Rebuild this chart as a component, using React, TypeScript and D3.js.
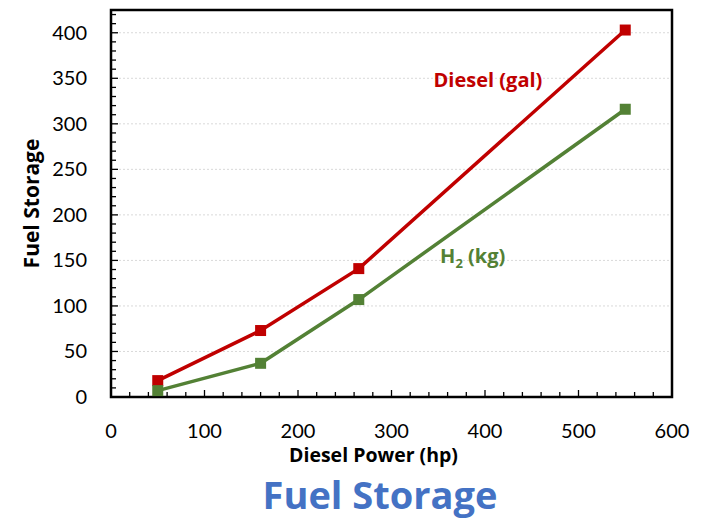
import { useEffect, useRef } from "react";
import * as d3 from "d3";

const powerHp = [50, 160, 265, 550];
const dieselGal = [18, 73, 141, 403];
const h2Kg = [7, 37, 107, 316];
const xTicks = [0, 100, 200, 300, 400, 500, 600];
const yTicks = [0, 50, 100, 150, 200, 250, 300, 350, 400];

const FONT = "Lato, 'Open Sans', sans-serif";
const BOLD = "'Open Sans', Lato, sans-serif";

export default function App() {
  const svgRef = useRef<SVGSVGElement>(null);

  useEffect(() => {
    const svg = d3.select(svgRef.current);
    svg.selectAll("*").remove();

    const margin = { top: 10, right: 50, bottom: 123, left: 111 };
    const width = 722 - margin.left - margin.right;
    const height = 520 - margin.top - margin.bottom;

    const x = d3.scaleLinear().domain([0, 600]).range([0, width]);
    const y = d3.scaleLinear().domain([0, 425]).range([height, 0]);

    const g = svg
      .append("g")
      .attr("transform", `translate(${margin.left},${margin.top})`);

    // gridlines
    g.selectAll("line.grid")
      .data(yTicks.filter((d) => d > 0))
      .enter()
      .append("line")
      .attr("x1", 0)
      .attr("x2", width)
      .attr("y1", (d) => y(d))
      .attr("y2", (d) => y(d))
      .attr("stroke", "#d9d9d9")
      .attr("stroke-width", 1)
      .attr("stroke-dasharray", "2,2");

    // minor ticks inside
    g.selectAll("line.ymin")
      .data(d3.range(0, 430, 10))
      .enter()
      .append("line")
      .attr("x1", 0)
      .attr("x2", (d) => (d % 50 === 0 ? 7 : 5))
      .attr("y1", (d) => y(d))
      .attr("y2", (d) => y(d))
      .attr("stroke", "#000")
      .attr("stroke-width", 1.3);

    g.selectAll("line.xmin")
      .data(d3.range(0, 601, 20))
      .enter()
      .append("line")
      .attr("x1", (d) => x(d))
      .attr("x2", (d) => x(d))
      .attr("y1", height)
      .attr("y2", (d) => (d % 100 === 0 ? height - 7 : height - 5))
      .attr("stroke", "#000")
      .attr("stroke-width", 1.3);

    // frame
    g.append("rect")
      .attr("width", width)
      .attr("height", height)
      .attr("fill", "none")
      .attr("stroke", "#000")
      .attr("stroke-width", 2.5);

    // tick labels
    g.selectAll("text.ylab")
      .data(yTicks)
      .enter()
      .append("text")
      .attr("x", -24)
      .attr("y", (d) => y(d))
      .attr("dy", "0.35em")
      .attr("text-anchor", "end")
      .attr("font-family", FONT)
      .attr("font-size", 20)
      .attr("fill", "#000")
      .text((d) => d);

    g.selectAll("text.xlab")
      .data(xTicks)
      .enter()
      .append("text")
      .attr("x", (d) => x(d))
      .attr("y", height + 41)
      .attr("text-anchor", "middle")
      .attr("font-family", FONT)
      .attr("font-size", 20)
      .attr("fill", "#000")
      .text((d) => d);

    // axis titles
    g.append("text")
      .attr("transform", `translate(${-79},${height / 2}) rotate(-90)`)
      .attr("text-anchor", "middle")
      .attr("dy", "0.35em")
      .attr("font-family", BOLD)
      .attr("font-weight", "bold")
      .attr("font-size", 21)
      .text("Fuel Storage");

    g.append("text")
      .attr("x", width / 2 - 18)
      .attr("y", height + 65)
      .attr("text-anchor", "middle")
      .attr("font-family", BOLD)
      .attr("font-weight", "bold")
      .attr("font-size", 19.5)
      .text("Diesel Power (hp)");

    const series = [
      { values: dieselGal, color: "#C00000" },
      { values: h2Kg, color: "#538135" },
    ];

    const line = d3
      .line<number>()
      .x((_, i) => x(powerHp[i]))
      .y((d) => y(d));

    series.forEach((s) => {
      g.append("path")
        .datum(s.values)
        .attr("fill", "none")
        .attr("stroke", s.color)
        .attr("stroke-width", 3.5)
        .attr("d", line);

      g.selectAll(null)
        .data(s.values)
        .enter()
        .append("rect")
        .attr("x", (_, i) => x(powerHp[i]) - 5.5)
        .attr("y", (d) => y(d) - 5.5)
        .attr("width", 11)
        .attr("height", 11)
        .attr("fill", s.color);
    });

    // series labels
    g.append("text")
      .attr("x", x(345))
      .attr("y", y(340))
      .attr("font-family", BOLD)
      .attr("font-weight", "bold")
      .attr("font-size", 20)
      .attr("fill", "#C00000")
      .text("Diesel (gal)");

    const h2 = g
      .append("text")
      .attr("x", x(352))
      .attr("y", y(147))
      .attr("font-family", BOLD)
      .attr("font-weight", "bold")
      .attr("font-size", 20)
      .attr("fill", "#538135");
    h2.append("tspan").text("H");
    h2.append("tspan").attr("font-size", 13).attr("dy", 5).text("2");
    h2.append("tspan").attr("dy", -5).text(" (kg)");

    // title
    svg
      .append("text")
      .attr("x", 380)
      .attr("y", 509)
      .attr("text-anchor", "middle")
      .attr("font-family", BOLD)
      .attr("font-weight", "bold")
      .attr("font-size", 38)
      .attr("fill", "#4472C4")
      .text("Fuel Storage");
  }, []);

  return (
    <svg
      ref={svgRef}
      width={722}
      height={520}
      style={{ position: "absolute", left: 0, top: 0, background: "#fff" }}
    />
  );
}
